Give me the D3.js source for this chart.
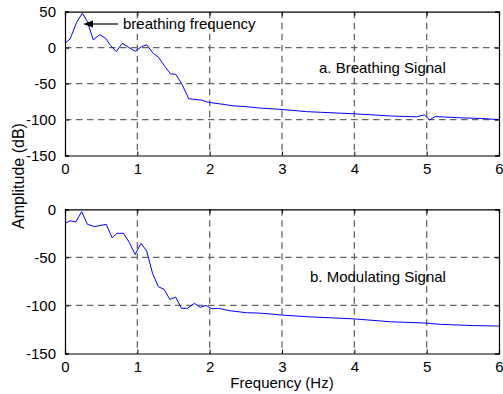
<!DOCTYPE html>
<html><head><meta charset="utf-8">
<script src="https://cdn.jsdelivr.net/npm/d3@7"></script>
<style>body{margin:0;background:#fff}text{font-family:"Liberation Sans",Arial,sans-serif;fill:#000}</style>
</head><body><svg id="c" width="503" height="394"></svg>
<script>
const freqA = [0,0.07,0.16,0.24,0.31,0.39,0.48,0.56,0.63,0.71,0.79,0.87,0.97,1.06,1.13,1.22,1.29,1.38,1.46,1.53,1.61,1.71,1.84,1.89,1.98,2.17,2.33,2.5,2.69,3.0,3.34,4.0,4.5,4.86,4.97,5.04,5.12,5.45,5.75,6.0];
const ampA  = [6,12,35,48,36,11,18,13,3,-5.5,6,1,-5,1.5,4,-8,-13,-26,-36.5,-37,-49.5,-71,-72.5,-73,-76,-78.6,-81,-82,-84,-86,-89,-92,-95,-96.2,-93.5,-100.4,-95.8,-97.5,-98.5,-100];
const freqB = [0,0.07,0.15,0.23,0.31,0.41,0.57,0.65,0.72,0.81,0.89,0.97,1.05,1.13,1.21,1.29,1.37,1.45,1.53,1.61,1.69,1.79,1.87,1.95,2.03,2.12,2.28,2.51,2.7,3.0,3.34,4.0,4.5,5.0,5.19,5.66,6.0];
const ampB  = [-14.6,-12,-13,-2.5,-15.6,-18,-15.6,-29.5,-25,-25,-34.7,-47,-35.4,-43.4,-66.6,-80.5,-83.3,-93.7,-91.3,-103,-103,-97.8,-102,-100,-103.4,-103,-105.5,-107.6,-108,-110,-111.7,-114,-117,-118.4,-119.7,-121,-121.4];
const xTicks = [0,1,2,3,4,5,6];
const yTicksA = [-150,-100,-50,0,50];
const yTicksB = [-150,-100,-50,0];
const labelA = "a. Breathing Signal";
const labelB = "b. Modulating Signal";
const annot = "breathing frequency";

const svg = d3.select("#c");
const X0 = 65, X1 = 499;
const FS = 15;
const fmt = d => String(d);

function panel(freq, amp, yDom, yTicks, top, bottom, label, labelPos) {
  const x = d3.scaleLinear().domain([0,6]).range([X0,X1]);
  const y = d3.scaleLinear().domain(yDom).range([bottom, top]);
  const g = svg.append("g");
  xTicks.filter(t => t > 0 && t < 6).forEach(t => {
    g.append("line").attr("x1", x(t)).attr("x2", x(t)).attr("y1", top).attr("y2", bottom)
      .attr("stroke", "#666").attr("stroke-width", 1.3).attr("stroke-dasharray", "6.5,4.5");
  });
  yTicks.filter(t => t > yDom[0] && t < yDom[1]).forEach(t => {
    g.append("line").attr("x1", X0).attr("x2", X1).attr("y1", y(t)).attr("y2", y(t))
      .attr("stroke", "#666").attr("stroke-width", 1.3).attr("stroke-dasharray", "6.5,4.5");
  });
  const pts = freq.map((f,i) => [f, amp[i]]);
  g.append("path").datum(pts)
    .attr("d", d3.line().x(d => x(d[0])).y(d => y(d[1])))
    .attr("fill", "none").attr("stroke", "#0000ff").attr("stroke-width", 1);
  const ax = d3.axisBottom(x).tickValues(xTicks).tickSize(-4).tickPadding(8).tickFormat(fmt);
  const axT = d3.axisTop(x).tickValues(xTicks).tickSize(-4).tickFormat("");
  const ay = d3.axisLeft(y).tickValues(yTicks).tickSize(-4).tickPadding(9).tickFormat(fmt);
  const ayR = d3.axisRight(y).tickValues(yTicks).tickSize(-4).tickFormat("");
  const style = s => { s.select(".domain").attr("stroke","#000").attr("stroke-width",1.2);
    s.selectAll(".tick line").attr("stroke","#000");
    s.selectAll("text").attr("font-size", FS).attr("font-family","Liberation Sans, Arial, sans-serif").attr("fill","#000"); };
  g.append("g").attr("transform", `translate(0,${bottom})`).call(ax).call(style);
  g.append("g").attr("transform", `translate(0,${top})`).call(axT).call(style);
  g.append("g").attr("transform", `translate(${X0},0)`).call(ay).call(style);
  g.append("g").attr("transform", `translate(${X1},0)`).call(ayR).call(style);
  g.append("text").attr("x", labelPos[0]).attr("y", labelPos[1]).attr("font-size", FS).text(label);
  return {x, y};
}

panel(freqA, ampA, [-150,50], yTicksA, 11.7, 155.5, labelA, [319, 73]);
panel(freqB, ampB, [-150,0], yTicksB, 209.3, 353.5, labelB, [310, 282]);

svg.append("line").attr("x1", 118).attr("x2", 90).attr("y1", 24).attr("y2", 24).attr("stroke", "#000").attr("stroke-width", 1.2);
svg.append("path").attr("d", "M83,24 L93,20.5 L93,27.5 Z").attr("fill", "#000");
svg.append("text").attr("x", 123).attr("y", 29).attr("font-size", FS).text(annot);

svg.append("text").attr("x", 282).attr("y", 388).attr("text-anchor", "middle").attr("font-size", FS).text("Frequency (Hz)");
svg.append("text").attr("transform", "translate(24,176) rotate(-90)").attr("text-anchor", "middle").attr("font-size", FS+1).text("Amplitude (dB)");
</script></body></html>
